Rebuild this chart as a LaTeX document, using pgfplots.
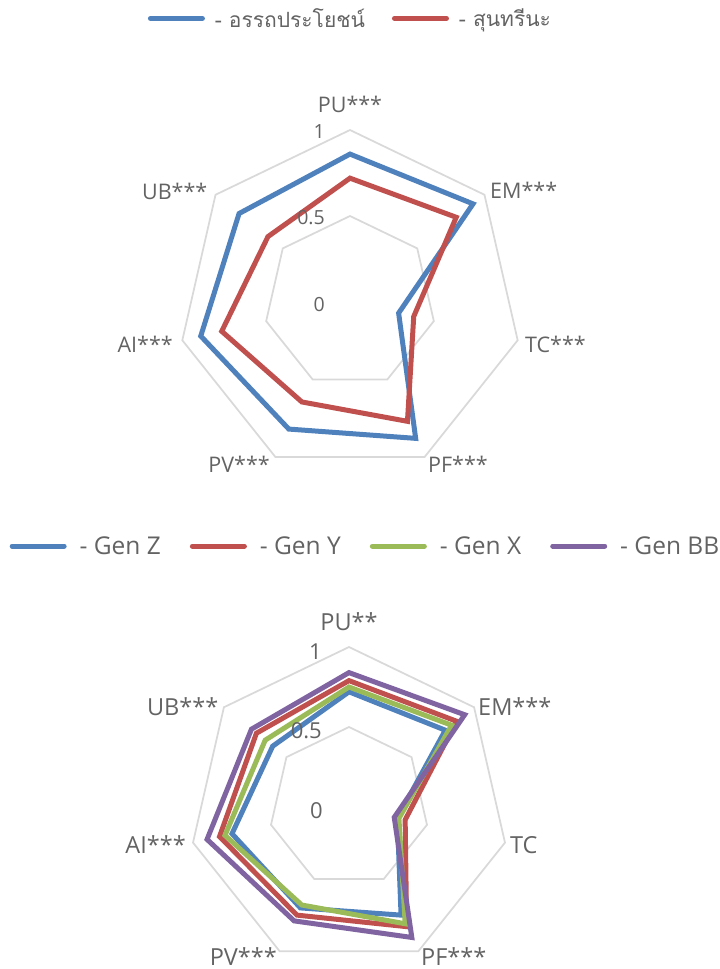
\documentclass[border=0pt]{standalone}
\usepackage{pgfplots}
\pgfplotsset{compat=1.18}
\usepackage{fontspec}
\setmainfont{Open Sans}
\newfontfamily\thaifont[Script=Thai]{Loma}
\definecolor{txt}{HTML}{636363}
\definecolor{gridc}{HTML}{D9D9D9}
\definecolor{cblue}{HTML}{4F81BD}
\definecolor{cred}{HTML}{C0504D}
\definecolor{cgreen}{HTML}{9BBB59}
\definecolor{cpurple}{HTML}{8064A2}
\pgfplotsset{
  radar/.style={scale only axis, hide axis, clip=false,
    xmin=-1, xmax=1, ymin=-1, ymax=1, anchor=center,
    legend style={draw=none, fill=none, inner sep=0pt,
      nodes={inner sep=0pt, text=txt}},
    legend image code/.code={\draw[##1, line cap=round] (0bp,0bp) -- (52bp,0bp);},
  },
  ser/.style={#1, line width=5bp, line join=miter, data cs=polar},
  grd/.style={gridc, line width=1.75bp, data cs=polar, forget plot},
}
\begin{document}
\begin{tikzpicture}
\useasboundingbox (0bp,0bp) rectangle (720bp,-969bp);
% ---------------- chart 1 ----------------
\begin{axis}[radar, at={(350bp,-302bp)}, width=344bp, height=344bp,
  legend columns=2,
  legend style={at={(axis cs:-1.176,1.649)}, anchor=west,
    font=\thaifont\fontsize{21bp}{24bp}\selectfont,
    /tikz/every odd column/.append style={column sep=10bp},
    /tikz/every even column/.append style={column sep=27bp}}]
\addplot[grd] coordinates {(90,1) (38.5714,1) (-12.8571,1) (-64.2857,1) (-115.7143,1) (-167.1429,1) (141.4286,1)} -- cycle;
\addplot[grd] coordinates {(90,0.5) (38.5714,0.5) (-12.8571,0.5) (-64.2857,0.5) (-115.7143,0.5) (-167.1429,0.5) (141.4286,0.5)} -- cycle;
\addplot[ser=cblue] coordinates {(90,0.86) (38.5714,0.915) (-12.8571,0.29) (-64.2857,0.88) (-115.7143,0.82) (-167.1429,0.89) (141.4286,0.825)} -- cycle;
\addplot[ser=cred] coordinates {(90,0.72) (38.5714,0.79) (-12.8571,0.38) (-64.2857,0.77) (-115.7143,0.645) (-167.1429,0.765) (141.4286,0.61)} -- cycle;
\legend{- อรรถประโยชน์, - สุนทรีนะ}
\end{axis}
\begin{scope}[every node/.style={text=txt, inner sep=0pt, font=\fontsize{21.5bp}{24bp}\selectfont}]
\node[anchor=base] at (350bp,-112.5bp) {PU***};
\node[anchor=base west] at (490bp,-198.5bp) {EM***};
\node[anchor=base west] at (525bp,-352bp) {TC***};
\node[anchor=base west] at (428bp,-472.5bp) {PF***};
\node[anchor=base east] at (270bp,-472.5bp) {PV***};
\node[anchor=base east] at (173bp,-352bp) {AI***};
\node[anchor=base east] at (207.5bp,-199bp) {UB***};
\end{scope}
\begin{scope}[every node/.style={text=txt, inner sep=0pt, font=\fontsize{19.5bp}{22bp}\selectfont}]
\node[anchor=base east] at (325bp,-138.3bp) {1};
\node[anchor=base east] at (325bp,-224.3bp) {0.5};
\node[anchor=base east] at (325bp,-311.7bp) {0};
\end{scope}
% ---------------- chart 2 ----------------
\begin{axis}[radar, at={(349bp,-807bp)}, width=320bp, height=320bp,
  legend columns=4,
  legend style={at={(axis cs:-2.122,1.631)}, anchor=west,
    font=\fontsize{24.5bp}{27bp}\selectfont,
    /tikz/every odd column/.append style={column sep=13bp},
    /tikz/every even column/.append style={column sep=29bp}}]
\addplot[grd] coordinates {(90,1) (38.5714,1) (-12.8571,1) (-64.2857,1) (-115.7143,1) (-167.1429,1) (141.4286,1)} -- cycle;
\addplot[grd] coordinates {(90,0.5) (38.5714,0.5) (-12.8571,0.5) (-64.2857,0.5) (-115.7143,0.5) (-167.1429,0.5) (141.4286,0.5)} -- cycle;
\addplot[ser=cblue] coordinates {(90,0.72) (38.5714,0.77) (-12.8571,0.31) (-64.2857,0.75) (-115.7143,0.70) (-167.1429,0.75) (141.4286,0.61)} -- cycle;
\addplot[ser=cred] coordinates {(90,0.79) (38.5714,0.86) (-12.8571,0.36) (-64.2857,0.83) (-115.7143,0.75) (-167.1429,0.83) (141.4286,0.74)} -- cycle;
\addplot[ser=cgreen] coordinates {(90,0.75) (38.5714,0.82) (-12.8571,0.32) (-64.2857,0.81) (-115.7143,0.68) (-167.1429,0.795) (141.4286,0.67)} -- cycle;
\addplot[ser=cpurple] coordinates {(90,0.84) (38.5714,0.925) (-12.8571,0.29) (-64.2857,0.905) (-115.7143,0.79) (-167.1429,0.91) (141.4286,0.78)} -- cycle;
\legend{- Gen Z, - Gen Y, - Gen X, - Gen BB}
\end{axis}
\begin{scope}[every node/.style={text=txt, inner sep=0pt, font=\fontsize{23.5bp}{26bp}\selectfont}]
\node[anchor=base] at (349bp,-630bp) {PU**};
\node[anchor=base west] at (478bp,-715bp) {EM***};
\node[anchor=base west] at (510bp,-853bp) {TC};
\node[anchor=base west] at (421bp,-965bp) {PF***};
\node[anchor=base east] at (277bp,-965bp) {PV***};
\node[anchor=base east] at (186bp,-853.3bp) {AI***};
\node[anchor=base east] at (218.5bp,-715bp) {UB***};
\end{scope}
\begin{scope}[every node/.style={text=txt, inner sep=0pt, font=\fontsize{22bp}{25bp}\selectfont}]
\node[anchor=base east] at (322bp,-659bp) {1};
\node[anchor=base east] at (322bp,-738.5bp) {0.5};
\node[anchor=base east] at (323bp,-818bp) {0};
\end{scope}
\end{tikzpicture}
\end{document}
